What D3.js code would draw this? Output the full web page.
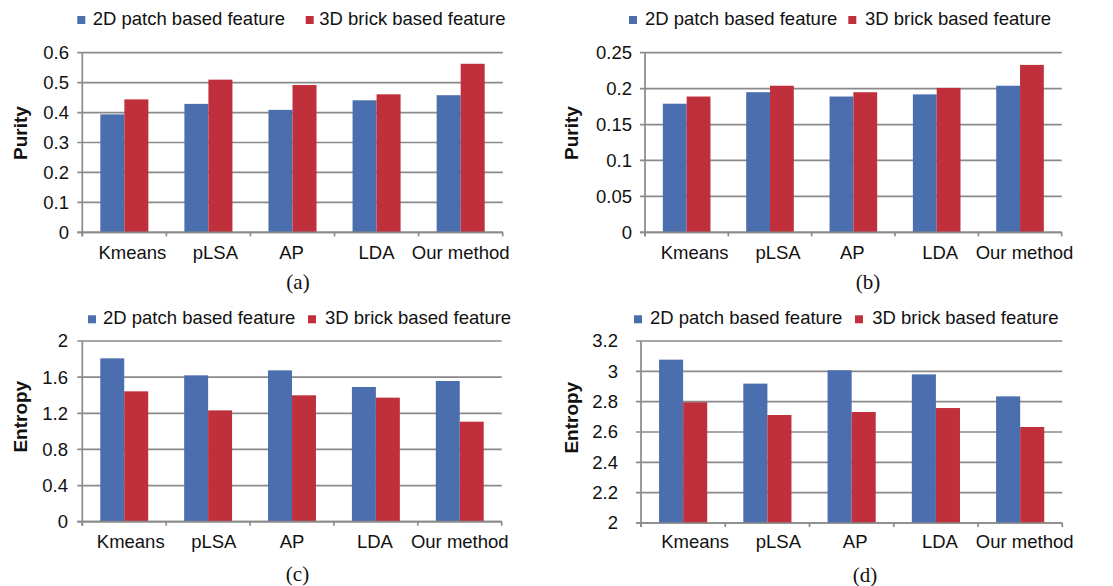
<!DOCTYPE html>
<html>
<head>
<meta charset="utf-8">
<script src="https://cdn.jsdelivr.net/npm/d3@7"></script>
<style>
  html, body { margin: 0; padding: 0; background: #fff; }
  svg { display: block; }
  text { font-family: "Liberation Sans", Arial, sans-serif; fill: #111; }
</style>
</head>
<body>
<svg id="chart" width="1113" height="586"></svg>
<script>
// Clustering methods compared in every panel
const categories = ["Kmeans", "pLSA", "AP", "LDA", "Our method"];
const seriesNames = ["2D patch based feature", "3D brick based feature"];
const seriesColors = ["#4a6eae", "#c0303c"];

// (a) purity, dataset 1
const purityA2D = [0.394, 0.429, 0.409, 0.441, 0.458];
const purityA3D = [0.444, 0.510, 0.492, 0.461, 0.563];
const ticksA = [0, 0.1, 0.2, 0.3, 0.4, 0.5, 0.6];

// (b) purity, dataset 2
const purityB2D = [0.179, 0.195, 0.189, 0.192, 0.204];
const purityB3D = [0.189, 0.204, 0.195, 0.201, 0.233];
const ticksB = [0, 0.05, 0.1, 0.15, 0.2, 0.25];

// (c) entropy, dataset 1
const entropyC2D = [1.808, 1.620, 1.675, 1.491, 1.557];
const entropyC3D = [1.443, 1.232, 1.399, 1.373, 1.107];
const ticksC = [0, 0.4, 0.8, 1.2, 1.6, 2];

// (d) entropy, dataset 2
const entropyD2D = [3.077, 2.919, 3.007, 2.980, 2.835];
const entropyD3D = [2.796, 2.712, 2.732, 2.758, 2.633];
const ticksD = [2, 2.2, 2.4, 2.6, 2.8, 3, 3.2];

// Panel layout: plot box, legend item x positions, label nudges
const panels = [
  { s1: purityA2D, s2: purityA3D, ticks: ticksA, title: "Purity", caption: "(a)",
    left: 82.3, right: 502.7, top: 52.7, bottom: 232.3,
    legend: [77.3, 92.7, 305.7, 319.3], legendY: 25, labelRight: 69,
    catShift: [8, 7, -1, 0, 0],
    titleX: 27, titleY: 133, catY: 259, capX: 298, capY: 289 },
  { s1: purityB2D, s2: purityB3D, ticks: ticksB, title: "Purity", caption: "(b)",
    left: 645, right: 1061.7, top: 52.7, bottom: 232.3,
    legend: [629, 645, 848.3, 865], legendY: 25, labelRight: 632,
    catShift: [8, 8, -1, 3.5, 4.5],
    titleX: 577.5, titleY: 133, catY: 259, capX: 868, capY: 289 },
  { s1: entropyC2D, s2: entropyC3D, ticks: ticksC, title: "Entropy", caption: "(c)",
    left: 82.3, right: 501.7, top: 341, bottom: 521.7,
    legend: [88, 103, 308, 325], legendY: 324.3, labelRight: 68,
    catShift: [6.5, 5.7, 0, -1, 0],
    titleX: 27, titleY: 416.7, catY: 548.3, capX: 297.5, capY: 581 },
  { s1: entropyD2D, s2: entropyD3D, ticks: ticksD, title: "Entropy", caption: "(d)",
    left: 641, right: 1062.3, top: 341, bottom: 523,
    legend: [634, 650, 855, 872.3], legendY: 324.3, labelRight: 618,
    catShift: [12, 11, 3.5, 4, 4.5],
    titleX: 577.5, titleY: 417.7, catY: 548.3, capX: 865, capY: 582 }
];

const svg = d3.select("#chart");
const gridColor = "#8a8a8a";
const fontSize = 18.5;

panels.forEach(p => {
  const g = svg.append("g");
  const domain = [p.ticks[0], p.ticks[p.ticks.length - 1]];
  const y = d3.scaleLinear().domain(domain).range([p.bottom, p.top]);
  const x0 = d3.scaleBand().domain(categories).range([p.left, p.right])
    .paddingInner(0.4286).paddingOuter(0.2143);
  const x1 = d3.scaleBand().domain([0, 1]).range([0, x0.bandwidth()]).padding(0);

  // horizontal gridlines, extended slightly left of the value axis as ticks
  g.selectAll("line.grid").data(p.ticks).join("line")
    .attr("x1", p.left - 5).attr("x2", p.right)
    .attr("y1", d => y(d)).attr("y2", d => y(d))
    .attr("stroke", gridColor).attr("stroke-width", 1.7);

  // value tick labels
  g.selectAll("text.ytick").data(p.ticks).join("text")
    .attr("x", p.labelRight).attr("y", d => y(d))
    .attr("dy", "0.35em").attr("text-anchor", "end")
    .attr("font-size", fontSize)
    .text(d => String(+d.toFixed(2)));

  // bars
  const rows = categories.map((c, i) => ({ c, vals: [p.s1[i], p.s2[i]] }));
  const grp = g.selectAll("g.cat").data(rows).join("g")
    .attr("transform", d => `translate(${x0(d.c)},0)`);
  grp.selectAll("rect").data(d => d.vals.map((v, k) => ({ v, k }))).join("rect")
    .attr("x", d => x1(d.k)).attr("width", x1.bandwidth())
    .attr("y", d => y(d.v)).attr("height", d => p.bottom - y(d.v))
    .attr("fill", d => seriesColors[d.k]);

  // axis lines
  g.append("line").attr("x1", p.left).attr("x2", p.left)
    .attr("y1", p.top).attr("y2", p.bottom + 4)
    .attr("stroke", gridColor).attr("stroke-width", 1.7);
  g.append("line").attr("x1", p.left - 5).attr("x2", p.right)
    .attr("y1", p.bottom).attr("y2", p.bottom)
    .attr("stroke", gridColor).attr("stroke-width", 1.7);

  // category boundary ticks
  const step = x0.step();
  const bounds = d3.range(categories.length + 1).map(i => p.left + i * step);
  g.selectAll("line.xtick").data(bounds).join("line")
    .attr("x1", d => d).attr("x2", d => d)
    .attr("y1", p.bottom).attr("y2", p.bottom + 4)
    .attr("stroke", gridColor).attr("stroke-width", 1.7);

  // category labels
  g.selectAll("text.cat").data(categories).join("text")
    .attr("x", (d, i) => x0(d) + x0.bandwidth() / 2 + p.catShift[i]).attr("y", p.catY)
    .attr("text-anchor", "middle").attr("font-size", fontSize)
    .text(d => d);

  // axis title
  g.append("text")
    .attr("transform", `translate(${p.titleX},${p.titleY}) rotate(-90)`)
    .attr("text-anchor", "middle").attr("font-size", 19).attr("font-weight", "bold")
    .text(p.title);

  // legend
  seriesNames.forEach((name, k) => {
    g.append("rect").attr("x", p.legend[k * 2]).attr("y", p.legendY - 9)
      .attr("width", 8).attr("height", 8).attr("fill", seriesColors[k]);
    g.append("text").attr("x", p.legend[k * 2 + 1]).attr("y", p.legendY)
      .attr("font-size", fontSize).text(name);
  });

  // panel caption
  g.append("text").attr("x", p.capX).attr("y", p.capY)
    .attr("text-anchor", "middle").attr("font-size", 21)
    .style("font-family", "'Liberation Serif', 'Times New Roman', serif")
    .text(p.caption);
});
</script>
</body>
</html>
